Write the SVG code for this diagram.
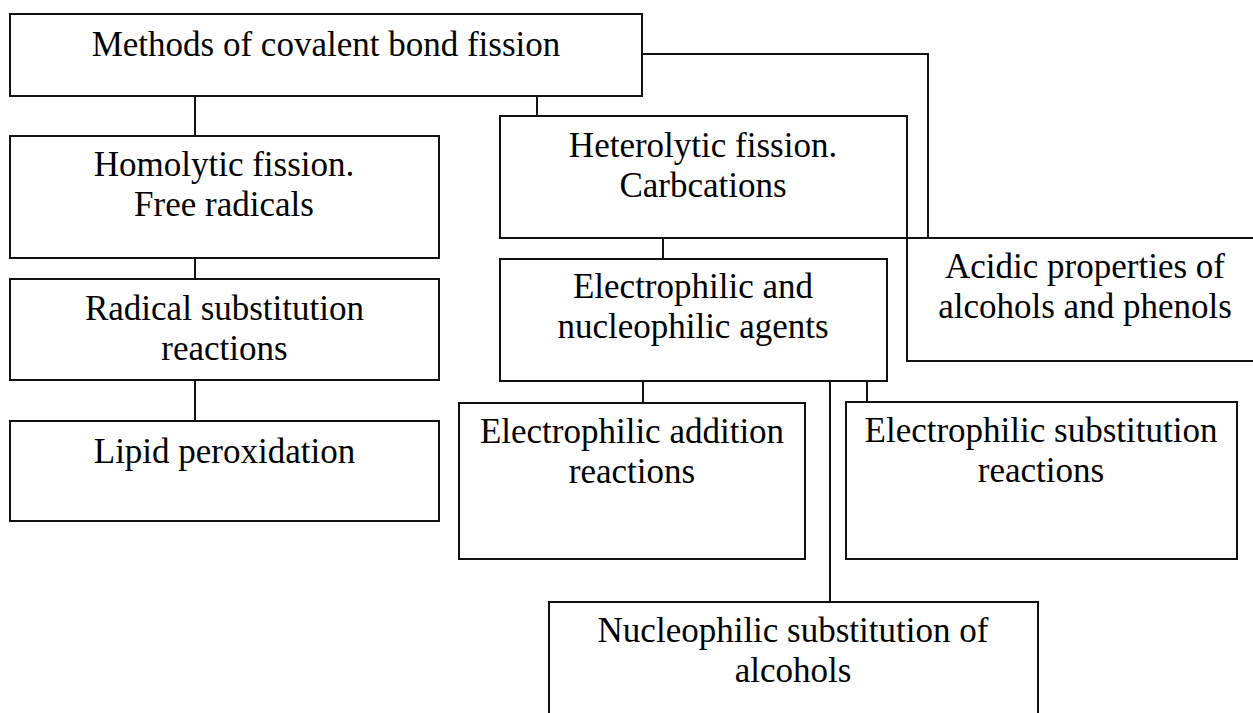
<svg xmlns="http://www.w3.org/2000/svg" width="1253" height="713" viewBox="0 0 1253 713">
<style>
  .box { fill: #fff; stroke: #111; stroke-width: 2; }
  .lbl { font-family: "Liberation Serif", "Times New Roman", serif; font-size: 35px; fill: #000; text-anchor: middle; }
  .conn { fill: none; stroke: #111; stroke-width: 2; }
</style>
<rect x="0" y="0" width="1253" height="713" fill="#fff"/>
<g id="connectors">
  <line class="conn" x1="195" y1="96" x2="195" y2="136"/>
  <line class="conn" x1="537" y1="96" x2="537" y2="116"/>
  <path class="conn" d="M642,54 H928 V238"/>
  <line class="conn" x1="195" y1="258" x2="195" y2="279"/>
  <line class="conn" x1="195" y1="380" x2="195" y2="421"/>
  <line class="conn" x1="663" y1="238" x2="663" y2="259"/>
  <line class="conn" x1="643" y1="381" x2="643" y2="403"/>
  <line class="conn" x1="830" y1="381" x2="830" y2="602"/>
  <line class="conn" x1="867" y1="381" x2="867" y2="402"/>
</g>
<g id="node-methods">
  <rect class="box" x="10" y="14" width="632" height="82"/>
  <text class="lbl" x="326" y="56">Methods of covalent bond fission</text>
</g>
<g id="node-homolytic">
  <rect class="box" x="10" y="136" width="429" height="122"/>
  <text class="lbl" x="224" y="176">Homolytic fission.</text>
  <text class="lbl" x="224" y="216">Free radicals</text>
</g>
<g id="node-radical">
  <rect class="box" x="10" y="279" width="429" height="101"/>
  <text class="lbl" x="224.5" y="320">Radical substitution</text>
  <text class="lbl" x="224.5" y="360">reactions</text>
</g>
<g id="node-lipid">
  <rect class="box" x="10" y="421" width="429" height="100"/>
  <text class="lbl" x="224.5" y="463">Lipid peroxidation</text>
</g>
<g id="node-heterolytic">
  <rect class="box" x="500" y="116" width="407" height="122"/>
  <text class="lbl" x="703" y="157">Heterolytic fission.</text>
  <text class="lbl" x="703" y="197">Carbcations</text>
</g>
<g id="node-acidic">
  <rect class="box" x="907" y="238" width="360" height="123"/>
  <text class="lbl" x="1085" y="278">Acidic properties of</text>
  <text class="lbl" x="1085" y="318">alcohols and phenols</text>
</g>
<g id="node-agents">
  <rect class="box" x="500" y="259" width="387" height="122"/>
  <text class="lbl" x="693" y="298">Electrophilic and</text>
  <text class="lbl" x="693" y="338">nucleophilic agents</text>
</g>
<g id="node-addition">
  <rect class="box" x="459" y="403" width="346" height="156"/>
  <text class="lbl" x="632" y="443">Electrophilic addition</text>
  <text class="lbl" x="632" y="483">reactions</text>
</g>
<g id="node-esubstitution">
  <rect class="box" x="846" y="402" width="391" height="157"/>
  <text class="lbl" x="1041" y="442">Electrophilic substitution</text>
  <text class="lbl" x="1041" y="482">reactions</text>
</g>
<g id="node-nsubstitution">
  <rect class="box" x="549" y="602" width="489" height="130"/>
  <text class="lbl" x="793" y="642">Nucleophilic substitution of</text>
  <text class="lbl" x="793" y="682">alcohols</text>
</g>
</svg>
